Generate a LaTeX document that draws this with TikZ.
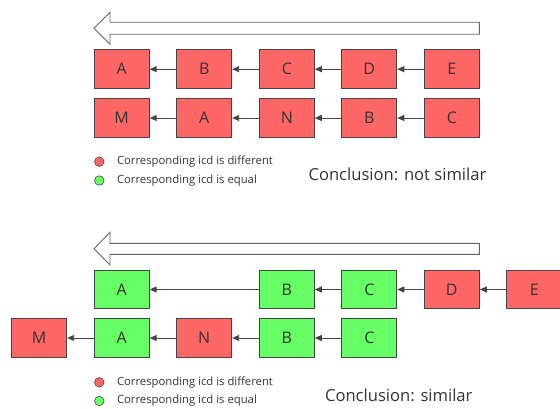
\documentclass[tikz,border=0pt]{standalone}
\usepackage{fontspec}
\setmainfont{Open Sans}
\usetikzlibrary{arrows.meta}
\definecolor{badred}{HTML}{FF6666}
\definecolor{goodgreen}{HTML}{66FF66}
\definecolor{edge}{HTML}{444444}
\definecolor{ink}{HTML}{333333}
\definecolor{outline}{HTML}{666666}

\begin{document}
\begin{tikzpicture}[x=1pt,y=-1pt,
  cell/.style={draw=edge, line width=0.9pt, minimum width=55pt, minimum height=38.7pt,
    inner sep=0pt, font=\fontsize{16}{18}\selectfont, text=ink},
  diff/.style={cell, fill=badred},
  same/.style={cell, fill=goodgreen},
  link/.style={draw=edge, line width=0.9pt, -{Triangle[length=7pt,width=6pt]}},
  bigarrow/.style={draw=outline, fill=white, line width=0.9pt},
  dot/.style={circle, draw=edge, line width=0.6pt, minimum size=9.5pt, inner sep=0pt},
  legend/.style={anchor=west, font=\fontsize{11.3}{13}\selectfont, text=ink},
  verdict/.style={anchor=west, font=\fontsize{16.6}{19}\selectfont, text=ink}]
\useasboundingbox (0,0) rectangle (560,409);

% ---------- first comparison ----------
\draw[bigarrow] (479.3,22.3) -- (110,22.3) -- (110,12.3) -- (94,28.3)
  -- (110,44.3) -- (110,34.3) -- (479.3,34.3) -- cycle;

\node[diff] (a1) at (121.7,69.2) {A};
\node[diff] (b1) at (204.2,69.2) {B};
\node[diff] (c1) at (286.8,69.2) {C};
\node[diff] (d1) at (369.3,69.2) {D};
\node[diff] (e1) at (451.8,69.2) {E};

\node[diff] (m2) at (121.7,118) {M};
\node[diff] (a2) at (204.2,118) {A};
\node[diff] (n2) at (286.8,118) {N};
\node[diff] (b2) at (369.3,118) {B};
\node[diff] (c2) at (451.8,118) {C};

\draw[link] (b1) -- (a1);
\draw[link] (c1) -- (b1);
\draw[link] (d1) -- (c1);
\draw[link] (e1) -- (d1);
\draw[link] (a2) -- (m2);
\draw[link] (n2) -- (a2);
\draw[link] (b2) -- (n2);
\draw[link] (c2) -- (b2);

\node[dot, fill=badred] (r1) at (99.3,161.7) {};
\node[legend] (rt1) at (113.5,161.7) {Corresponding icd is different};
\node[dot, fill=goodgreen] (g1) at (99.3,180.5) {};
\node[legend] (gt1) at (113.5,180.5) {Corresponding icd is equal};
\node[verdict] (v1) at (305,174.3) {Conclusion: not similar};

% ---------- second comparison ----------
\draw[bigarrow] (479.3,243.3) -- (110,243.3) -- (110,232.3) -- (94,248.7)
  -- (110,265) -- (110,254.3) -- (479.3,254.3) -- cycle;

\node[same] (a3) at (121.7,289.5) {A};
\node[same] (b3) at (286.8,289.5) {B};
\node[same] (c3) at (369.3,289.5) {C};
\node[diff] (d3) at (451.8,289.5) {D};
\node[diff] (e3) at (534.2,289.5) {E};

\node[diff] (m4) at (39.2,338) {M};
\node[same] (a4) at (121.7,338) {A};
\node[diff] (n4) at (204.2,338) {N};
\node[same] (b4) at (286.8,338) {B};
\node[same] (c4) at (369.3,338) {C};

\draw[link] (b3) -- (a3);
\draw[link] (c3) -- (b3);
\draw[link] (d3) -- (c3);
\draw[link] (e3) -- (d3);
\draw[link] (a4) -- (m4);
\draw[link] (n4) -- (a4);
\draw[link] (b4) -- (n4);
\draw[link] (c4) -- (b4);

\node[dot, fill=badred] (r2) at (99.3,382.3) {};
\node[legend] (rt2) at (113.5,382.3) {Corresponding icd is different};
\node[dot, fill=goodgreen] (g2) at (99.3,401) {};
\node[legend] (gt2) at (113.5,401) {Corresponding icd is equal};
\node[verdict] (v2) at (321.5,395) {Conclusion: similar};
\end{tikzpicture}
\end{document}
